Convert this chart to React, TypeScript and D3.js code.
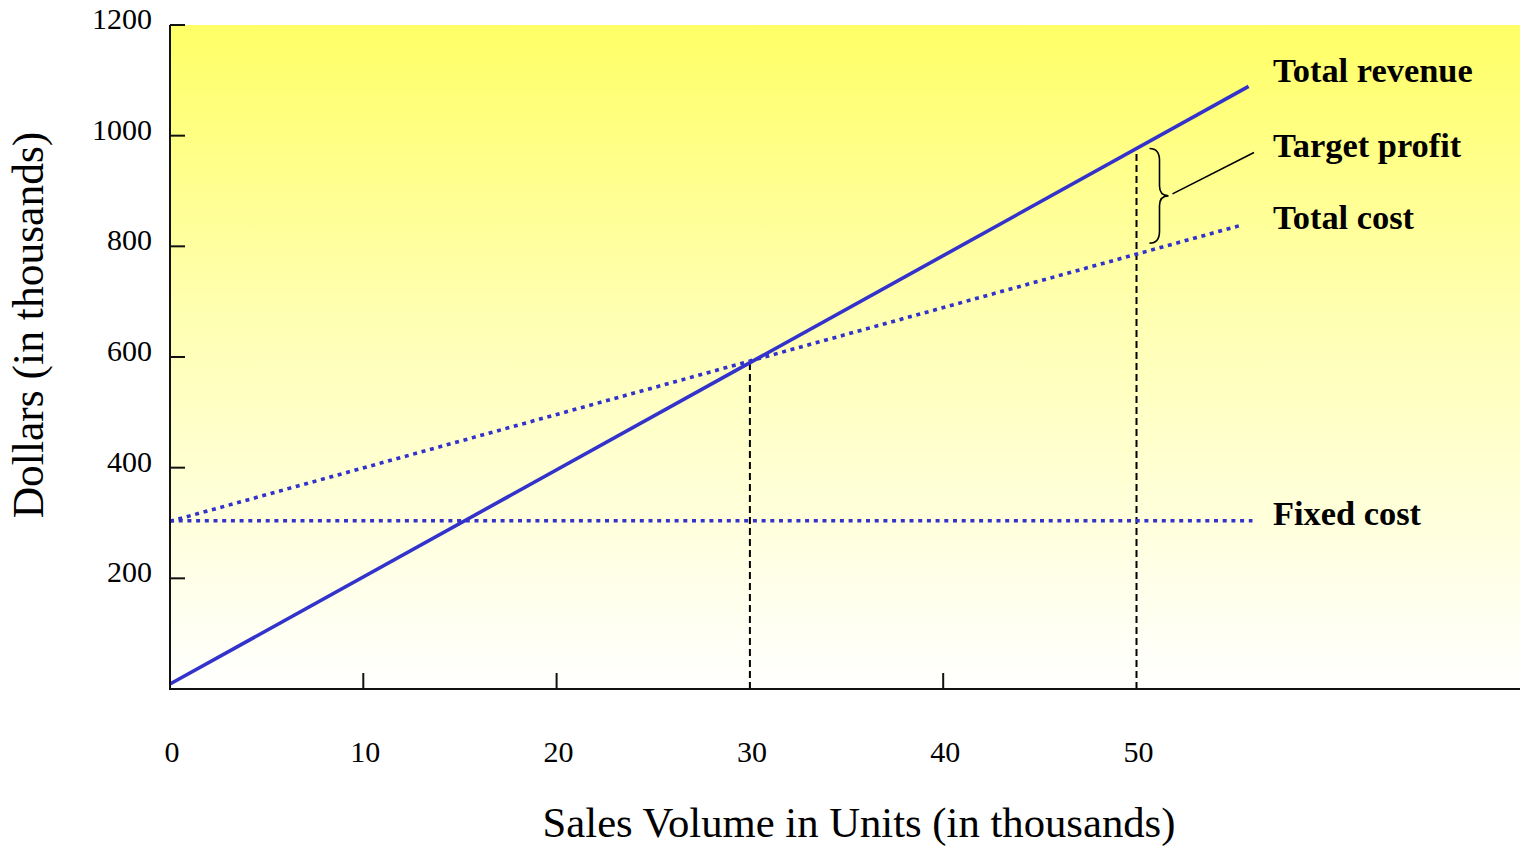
import React, { useEffect } from "react";
import * as d3 from "d3";

// Break-even chart: sales volume (thousands of units) vs dollars (thousands)
type Pt = { units: number; dollars: number };

const totalRevenue: Pt[] = [
  { units: 0, dollars: 9 },
  { units: 55.8, dollars: 1089 },
];
const totalCost: Pt[] = [
  { units: 0, dollars: 303 },
  { units: 55.4, dollars: 838 },
];
const fixedCost: Pt[] = [
  { units: 0, dollars: 304 },
  { units: 56.0, dollars: 304 },
];

const breakEvenUnits = 30;
const targetUnits = 50;

const xTickValues = [0, 10, 20, 30, 40, 50];
const yTickValues = [200, 400, 600, 800, 1000, 1200];

const seriesLabels = ["Total revenue", "Target profit", "Total cost", "Fixed cost"];

const W = 1520;
const H = 846;
const FONT = "'Liberation Serif', 'Times New Roman', Times, serif";
const BLUE = "#3333CC";

const x = d3.scaleLinear().domain([0, 50]).range([170, 1136.5]);
const y = d3.scaleLinear().domain([0, 1200]).range([689, 25]);

const line = d3
  .line<Pt>()
  .x((d) => x(d.units))
  .y((d) => y(d.dollars));

// value of a two-point straight series at a given volume
const valueAt = (s: Pt[], u: number) =>
  d3.scaleLinear().domain([s[0].units, s[1].units]).range([s[0].dollars, s[1].dollars])(u);

export default function App() {
  useEffect(() => {
    document.body.style.margin = "0";
  }, []);

  const revBE = valueAt(totalRevenue, breakEvenUnits);
  const revT = valueAt(totalRevenue, targetUnits);
  const costT = valueAt(totalCost, targetUnits);

  // curly brace spanning the profit gap at the target volume
  const bx = x(targetUnits) + 13;
  const by1 = y(revT);
  const by2 = y(costT) - 11;
  const bym = (by1 + by2) / 2;
  const bp = d3.path();
  bp.moveTo(bx, by1);
  bp.quadraticCurveTo(bx + 10, by1, bx + 10, by1 + 12);
  bp.lineTo(bx + 10, bym - 10);
  bp.quadraticCurveTo(bx + 10, bym, bx + 19, bym);
  bp.quadraticCurveTo(bx + 10, bym, bx + 10, bym + 10);
  bp.lineTo(bx + 10, by2 - 12);
  bp.quadraticCurveTo(bx + 10, by2, bx, by2);

  const markerUnits = [breakEvenUnits, targetUnits];
  const labelX = 1273;
  const labelY = [82, 157, 229, 525];

  return (
    <svg width={W} height={H} style={{ display: "block", background: "#fff" }} fontFamily={FONT}>
      <defs>
        <linearGradient id="bg" x1="0" y1="0" x2="0" y2="1">
          <stop offset="0" stopColor="#FFFF66" />
          <stop offset="0.45" stopColor="#FFFFB4" />
          <stop offset="1" stopColor="#FFFFFF" />
        </linearGradient>
      </defs>
      <rect x={170} y={y(1200)} width={W - 170} height={y(0) - y(1200)} fill="url(#bg)" />

      {/* reference lines for break-even and target volumes */}
      <line
        x1={x(breakEvenUnits)}
        x2={x(breakEvenUnits)}
        y1={y(0)}
        y2={y(revBE)}
        stroke="#000"
        strokeWidth={2}
        strokeDasharray="7 4"
      />
      <line
        x1={x(targetUnits)}
        x2={x(targetUnits)}
        y1={y(0)}
        y2={y(revT)}
        stroke="#000"
        strokeWidth={2}
        strokeDasharray="7 4"
      />

      {/* series */}
      <path d={line(fixedCost) || ""} fill="none" stroke={BLUE} strokeWidth={3.6} strokeDasharray="4 4.7" />
      <path d={line(totalCost) || ""} fill="none" stroke={BLUE} strokeWidth={3.6} strokeDasharray="4 4.7" />
      <path d={line(totalRevenue) || ""} fill="none" stroke={BLUE} strokeWidth={3.6} />

      {/* axes */}
      <line x1={170} x2={170} y1={y(1200)} y2={y(0) + 1} stroke="#111" strokeWidth={2} />
      <line x1={169} x2={W} y1={y(0)} y2={y(0)} stroke="#111" strokeWidth={2} />
      {yTickValues.map((v) => (
        <g key={"y" + v}>
          <line x1={170} x2={185} y1={y(v)} y2={y(v)} stroke="#111" strokeWidth={2} />
          <text x={152} y={y(v) + 4} textAnchor="end" fontSize={30} fill="#000">
            {v}
          </text>
        </g>
      ))}
      {xTickValues.map((v) => (
        <g key={"x" + v}>
          {v !== 0 && !markerUnits.includes(v) && (
            <line x1={x(v)} x2={x(v)} y1={y(0)} y2={y(0) - 16} stroke="#111" strokeWidth={2} />
          )}
          <text x={x(v) + 2} y={762} textAnchor="middle" fontSize={30} fill="#000">
            {v}
          </text>
        </g>
      ))}

      <text x={859} y={837} textAnchor="middle" fontSize={42.7} fill="#000">
        Sales Volume in Units (in thousands)
      </text>
      <text transform="translate(43,325) rotate(-90)" textAnchor="middle" fontSize={43.5} fill="#000">
        Dollars (in thousands)
      </text>

      {/* profit brace and its leader */}
      <path d={bp.toString()} fill="none" stroke="#000" strokeWidth={1.6} />
      <line x1={bx + 23} y1={bym - 2} x2={1254} y2={152.5} stroke="#000" strokeWidth={1.6} />

      {seriesLabels.map((t, i) => (
        <text key={t} x={labelX} y={labelY[i]} fontSize={34.4} fontWeight="bold" fill="#000">
          {t}
        </text>
      ))}
    </svg>
  );
}
